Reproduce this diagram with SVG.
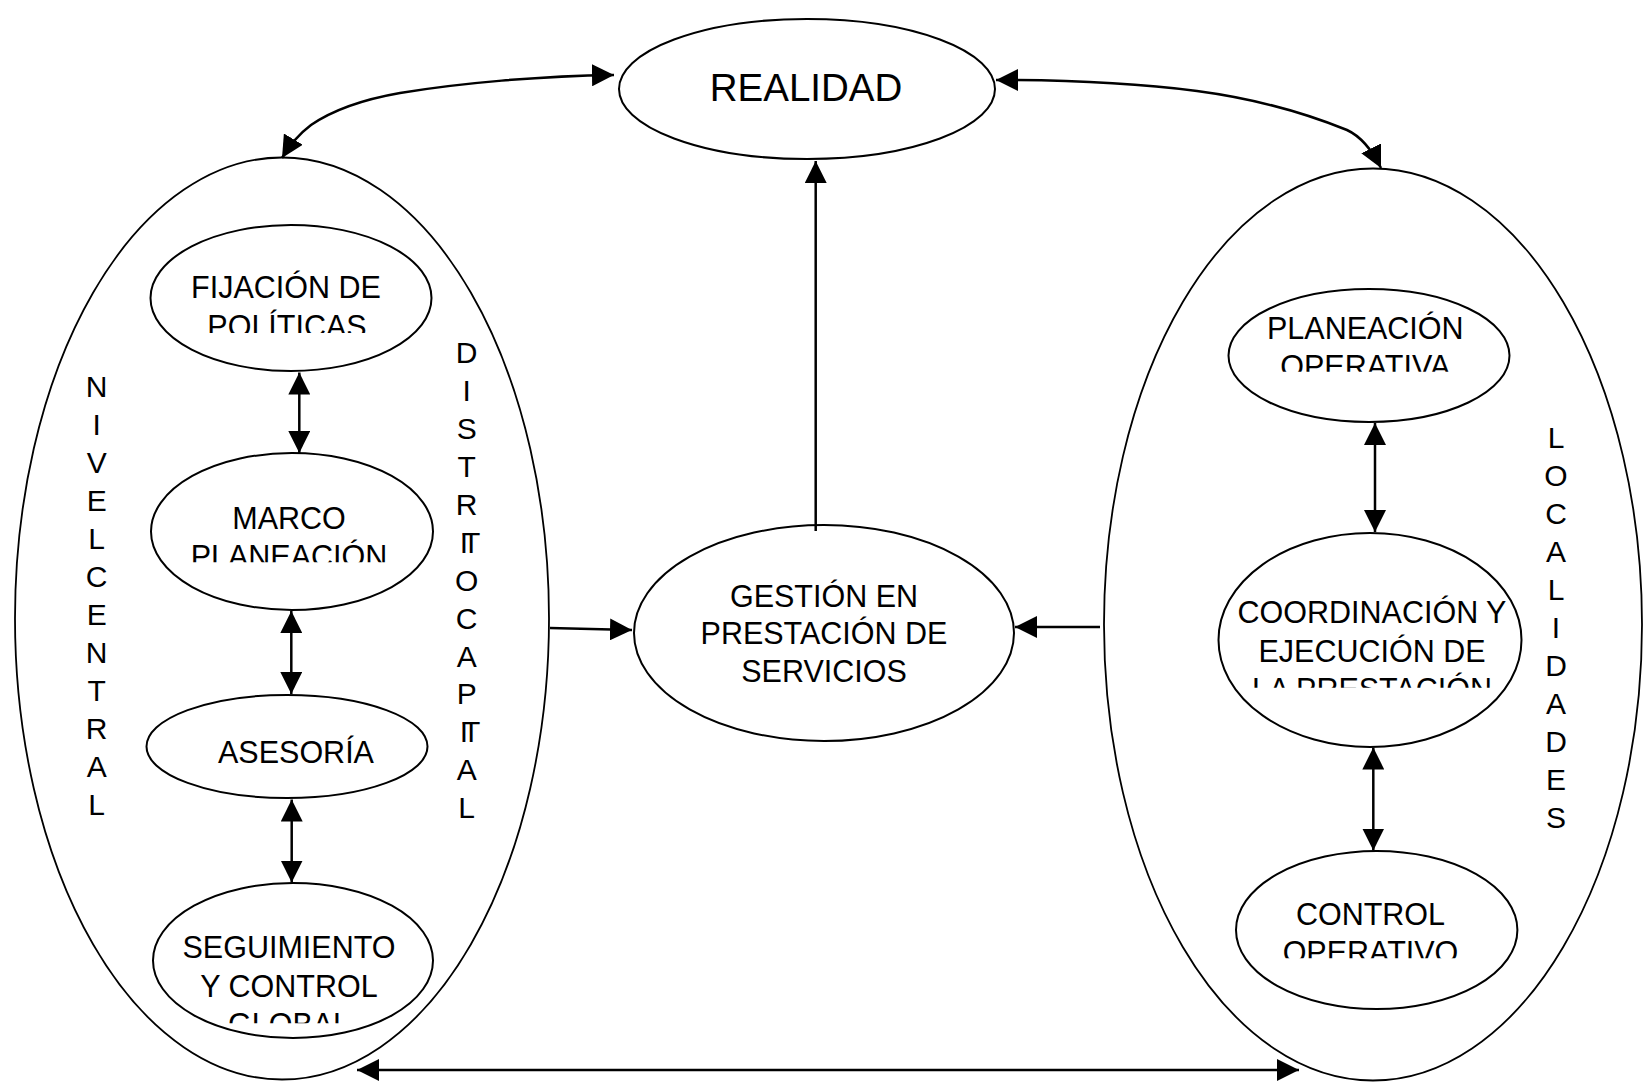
<svg xmlns="http://www.w3.org/2000/svg" width="1647" height="1082" viewBox="0 0 1647 1082">
  <style>
    .shape { fill: none; stroke: #000; stroke-width: 2; }
    .outer { fill: none; stroke: #000; stroke-width: 1.8; }
    .lbl { font-family: "Liberation Sans", Arial, sans-serif; font-size: 30.5px; fill: #000; text-anchor: middle; }
    .big { font-size: 38.5px; }
    .side { font-family: "Liberation Sans", Arial, sans-serif; font-size: 30px; fill: #000; text-anchor: middle; }
    .tight { letter-spacing: -6px; }
    .conn { fill: none; stroke: #000; stroke-width: 2.5; }
    .two { marker-start: url(#ah); marker-end: url(#ah); }
    .one { marker-end: url(#ah); }
  </style>
  <defs>
    <marker id="ah" markerUnits="userSpaceOnUse" markerWidth="22" markerHeight="22" refX="21" refY="10.5" orient="auto-start-reverse" viewBox="0 0 21 21">
      <path d="M0,0 L21,10.5 L0,21 Z" fill="#000"/>
    </marker>
    <clipPath id="cFij"><rect x="0" y="0" width="1647" height="333"/></clipPath>
    <clipPath id="cMar"><rect x="0" y="0" width="1647" height="562.3"/></clipPath>
    <clipPath id="cSeg"><rect x="0" y="0" width="1647" height="1023.3"/></clipPath>
    <clipPath id="cPla"><rect x="0" y="0" width="1647" height="371.7"/></clipPath>
    <clipPath id="cCoo"><rect x="0" y="0" width="1647" height="687.7"/></clipPath>
    <clipPath id="cCon"><rect x="0" y="0" width="1647" height="958.3"/></clipPath>
  </defs>
  <rect x="0" y="0" width="1647" height="1082" fill="#fff"/>

  <!-- outer containers -->
  <g id="nivel-central">
    <ellipse class="outer" cx="282" cy="618.5" rx="267" ry="461"/>
    <g class="side">
      <text x="96.7" y="396.7">N</text>
      <text x="96.7" y="434.7">I</text>
      <text x="96.7" y="472.7">V</text>
      <text x="96.7" y="510.7">E</text>
      <text x="96.7" y="548.7">L</text>
      <text x="96.7" y="586.7">C</text>
      <text x="96.7" y="624.7">E</text>
      <text x="96.7" y="662.7">N</text>
      <text x="96.7" y="700.7">T</text>
      <text x="96.7" y="738.7">R</text>
      <text x="96.7" y="776.7">A</text>
      <text x="96.7" y="814.7">L</text>
    </g>
    <g class="side">
      <text x="466.7" y="363.3">D</text>
      <text x="466.7" y="401.2">I</text>
      <text x="466.7" y="439.1">S</text>
      <text x="466.7" y="477">T</text>
      <text x="466.7" y="514.9">R</text>
      <text class="tight" x="467" y="552.8">IT</text>
      <text x="466.7" y="590.7">O</text>
      <text x="466.7" y="628.6">C</text>
      <text x="466.7" y="666.5">A</text>
      <text x="466.7" y="704.4">P</text>
      <text class="tight" x="467" y="742.3">IT</text>
      <text x="466.7" y="780.2">A</text>
      <text x="466.7" y="818.1">L</text>
    </g>
  </g>

  <g id="localidades">
    <ellipse class="outer" cx="1373" cy="624.5" rx="269" ry="456"/>
    <g class="side">
      <text x="1556" y="448.3">L</text>
      <text x="1556" y="486.3">O</text>
      <text x="1556" y="524.3">C</text>
      <text x="1556" y="562.3">A</text>
      <text x="1556" y="600.3">L</text>
      <text x="1556" y="638.3">I</text>
      <text x="1556" y="676.3">D</text>
      <text x="1556" y="714.3">A</text>
      <text x="1556" y="752.3">D</text>
      <text x="1556" y="790.3">E</text>
      <text x="1556" y="828.3">S</text>
    </g>
  </g>

  <!-- central nodes -->
  <g id="realidad">
    <ellipse class="shape" cx="807" cy="89" rx="188" ry="70"/>
    <text class="lbl big" x="806" y="101">REALIDAD</text>
  </g>

  <g id="gestion">
    <ellipse class="shape" cx="824" cy="633" rx="190" ry="108"/>
    <text class="lbl" x="824" y="606.7">GESTIÓN EN</text>
    <text class="lbl" x="824" y="644.3">PRESTACIÓN DE</text>
    <text class="lbl" x="824" y="681.7">SERVICIOS</text>
  </g>

  <!-- nivel central steps -->
  <g id="fijacion">
    <ellipse class="shape" cx="291" cy="298" rx="140.5" ry="73"/>
    <g clip-path="url(#cFij)">
      <text class="lbl" x="286" y="298.3">FIJACIÓN DE</text>
      <text class="lbl" x="287" y="336.5">POLÍTICAS</text>
    </g>
  </g>

  <g id="marco">
    <ellipse class="shape" cx="292" cy="531.5" rx="141" ry="78.5"/>
    <g clip-path="url(#cMar)">
      <text class="lbl" x="289" y="529">MARCO</text>
      <text class="lbl" x="289" y="567">PLANEACIÓN</text>
    </g>
  </g>

  <g id="asesoria">
    <ellipse class="shape" cx="287" cy="746.5" rx="140.5" ry="51.5"/>
    <text class="lbl" x="296" y="762.7">ASESORÍA</text>
  </g>

  <g id="seguimiento">
    <ellipse class="shape" cx="293" cy="960.5" rx="140" ry="77.5"/>
    <g clip-path="url(#cSeg)">
      <text class="lbl" x="289" y="958.3">SEGUIMIENTO</text>
      <text class="lbl" x="289" y="996.7">Y CONTROL</text>
      <text class="lbl" x="289" y="1034.7">GLOBAL</text>
    </g>
  </g>

  <!-- localidades steps -->
  <g id="planeacion">
    <ellipse class="shape" cx="1369" cy="355.5" rx="140.5" ry="66.5"/>
    <g clip-path="url(#cPla)">
      <text class="lbl" x="1365.3" y="339.3">PLANEACIÓN</text>
      <text class="lbl" x="1365.3" y="377.3">OPERATIVA</text>
    </g>
  </g>

  <g id="coordinacion">
    <ellipse class="shape" cx="1370" cy="640" rx="151.5" ry="107"/>
    <g clip-path="url(#cCoo)">
      <text class="lbl" x="1372" y="623.3">COORDINACIÓN Y</text>
      <text class="lbl" x="1372" y="661.7">EJECUCIÓN DE</text>
      <text class="lbl" x="1372" y="700">LA PRESTACIÓN</text>
    </g>
  </g>

  <g id="control">
    <ellipse class="shape" cx="1376.7" cy="930" rx="140.7" ry="79"/>
    <g clip-path="url(#cCon)">
      <text class="lbl" x="1370.5" y="925">CONTROL</text>
      <text class="lbl" x="1370.5" y="963">OPERATIVO</text>
    </g>
  </g>

  <!-- connectors -->
  <g id="connectors">
    <path class="conn two" d="M614,75 C540,76 460,83 400,93 C360,100 330,112 311,125 C299,134 291,143 282,158"/>
    <path class="conn two" d="M996,80 C1080,80 1150,85 1197,91 C1250,98 1300,111 1347,130 C1362,137 1372,150 1381,168"/>
    <line class="conn one" x1="815.7" y1="531" x2="815.7" y2="161"/>
    <line class="conn one" x1="550" y1="628" x2="632" y2="630"/>
    <line class="conn one" x1="1100" y1="627" x2="1015" y2="627"/>
    <line class="conn two" x1="357" y1="1070" x2="1299" y2="1070"/>
    <line class="conn two" x1="299.3" y1="372.5" x2="299.3" y2="453"/>
    <line class="conn two" x1="291.3" y1="611" x2="291.3" y2="694"/>
    <line class="conn two" x1="291.7" y1="799.5" x2="291.7" y2="882.5"/>
    <line class="conn two" x1="1375" y1="423" x2="1375" y2="532"/>
    <line class="conn two" x1="1373.3" y1="747.5" x2="1373.3" y2="850.5"/>
  </g>
</svg>
